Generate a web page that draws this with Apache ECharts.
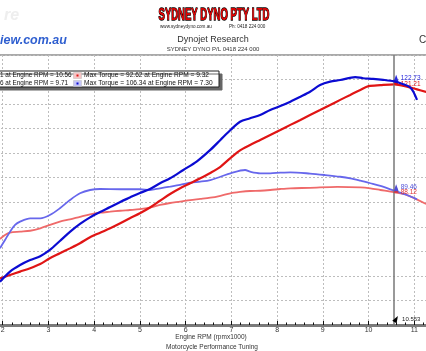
<!DOCTYPE html>
<html>
<head>
<meta charset="utf-8">
<script src="https://cdn.jsdelivr.net/npm/echarts@6/dist/echarts.min.js"></script>
<style>
html,body{margin:0;padding:0;background:#fff;}
#chart{width:426px;height:351px;}
</style>
</head>
<body>
<div id="chart"></div>
<script>
// rpm x1000 tick range shown
var rpmTicks = [2, 3, 4, 5, 6, 7, 8, 9, 10, 11];

// blue run - power (hp)
var bluePowerRpm = [1.94,2.16,2.38,2.60,2.82,3.03,3.25,3.47,3.69,3.91,4.13,4.35,4.57,4.78,5.00,5.22,5.44,5.66,5.95,6.24,6.54,6.76,6.98,7.19,7.41,7.63,7.85,8.07,8.29,8.51,8.72,8.94,9.16,9.38,9.71,9.88,10.10,10.32,10.56,10.76,10.91,10.98,11.06];
var bluePower = [21.8,26.9,30.2,32.7,34.6,37.8,42.3,46.9,50.9,54.2,56.9,59.4,62.0,64.2,66.5,68.5,71.4,73.9,78.1,82.3,88.2,93.2,98.2,102.4,104.1,105.8,108.3,110.3,112.5,115.0,117.5,120.9,122.6,123.4,124.9,124.3,124.0,123.5,122.7,121.3,119.7,117.5,113.4];

// red run - power (hp)
var redPowerRpm = [1.94,2.16,2.38,2.60,2.82,3.03,3.25,3.47,3.69,3.91,4.13,4.35,4.57,4.78,5.00,5.22,5.44,5.66,5.88,6.10,6.32,6.54,6.76,6.98,7.19,7.41,7.63,7.85,8.07,8.29,8.51,8.72,8.94,9.16,9.38,9.60,9.82,10.00,10.26,10.56,10.84,11.06,11.26];
var redPower = [23.5,25.2,26.9,28.6,30.7,33.6,36.1,38.6,41.2,44.2,46.5,48.7,51.2,53.8,56.3,59.2,62.6,66.0,68.9,71.4,73.9,76.6,79.7,84.1,88.0,90.7,93.2,95.7,98.2,100.8,103.3,105.8,108.3,110.8,113.4,115.9,118.4,120.3,120.8,121.2,120.1,118.7,117.4];

// blue run - torque (Nm)
var blueTorqueRpm = [1.94,2.05,2.16,2.27,2.38,2.60,2.82,3.03,3.25,3.47,3.69,3.91,4.13,4.57,5.00,5.22,5.44,5.66,5.88,6.10,6.32,6.54,6.76,6.98,7.30,7.41,7.63,7.85,8.07,8.29,8.72,9.05,9.38,9.60,9.82,10.04,10.26,10.56,10.84,11.06];
var blueTorque = [42.5,49.3,56.0,61.5,64.2,66.9,66.9,69.6,75.1,81.8,87.3,90.0,90.8,90.6,90.6,90.0,91.4,92.7,94.1,95.9,96.8,98.1,100.8,103.6,106.3,104.9,103.6,103.6,104.1,104.4,103.4,102.2,100.8,99.5,97.6,95.5,93.3,89.5,85.9,82.4];

// red run - torque (Nm)
var redTorqueRpm = [1.94,2.05,2.16,2.38,2.60,2.82,3.03,3.25,3.47,3.69,3.91,4.13,4.35,4.57,4.78,5.00,5.22,5.44,5.66,5.88,6.10,6.32,6.54,6.76,6.98,7.19,7.41,7.63,7.85,8.07,8.29,8.72,9.32,9.82,10.04,10.26,10.56,10.84,11.26];
var redTorque = [50.1,53.3,55.2,56.0,56.8,58.8,61.5,64.2,66.1,68.2,70.2,71.5,72.3,73.1,73.7,74.4,75.7,77.8,79.4,80.5,81.8,82.7,83.7,85.3,87.3,88.4,89.2,89.4,90.0,90.8,91.4,91.8,92.6,92.2,91.4,90.0,88.1,85.9,78.6];

// cursor readout
var cursorRpm = 10.56;
var cursorLabel = '10.553';
var cursorBluePower = 122.73, cursorRedPower = 121.21;
var cursorBlueTorque = 89.46, cursorRedTorque = 88.12;

var legendRows = [
  ['1 at Engine RPM = 10.56', 'Max Torque = 92.62 at Engine RPM = 9.32'],
  ['6 at Engine RPM = 9.71', 'Max Torque = 106.34 at Engine RPM = 7.30']
];

function pairs(xs, ys) {
  return xs.map(function (x, i) { return [x, ys[i]]; });
}

var FONT = 'Liberation Sans';
var chart = echarts.init(document.getElementById('chart'), null, {renderer: 'canvas'});

function cursorMark(val, color, dy) {
  return {
    coord: [cursorRpm, val],
    symbol: 'triangle',
    symbolSize: [5, 7],
    symbolOffset: [2, -3],
    itemStyle: {color: color},
    label: {
      show: true, position: 'right', distance: 2, offset: [0, dy],
      formatter: val.toFixed(2), color: color, fontSize: 6.5, fontFamily: FONT
    }
  };
}

var option = {
  backgroundColor: '#fff',
  animation: false,
  grid: {
    left: -43, right: -34, top: 55, bottom: 26,
    outerBoundsMode: 'none', containLabel: false,
    show: true, borderColor: '#555', borderWidth: 1
  },
  xAxis: {
    type: 'value', min: 1, max: 12, interval: 1,
    axisLine: {show: true, lineStyle: {color: '#7a7a7a', width: 3}},
    axisTick: {show: true, inside: true, length: 4, lineStyle: {color: '#111'}},
    minorTick: {show: true, splitNumber: 5, length: 2.5, lineStyle: {color: '#111'}},
    axisLabel: {
      show: true, fontSize: 7, color: '#333', margin: 2, fontFamily: FONT,
      showMinLabel: false, showMaxLabel: false
    },
    splitLine: {show: true, lineStyle: {color: '#bdbdbd', type: [2, 2], width: 1}}
  },
  yAxis: [
    {
      type: 'value', min: 0, max: 136, position: 'left',
      axisLine: {show: false}, axisTick: {show: false}, axisLabel: {show: false},
      splitLine: {show: false}
    },
    {
      type: 'value', min: -20, max: 200, interval: 20, position: 'right',
      axisLine: {show: false}, axisTick: {show: false}, axisLabel: {show: false},
      splitLine: {show: true, lineStyle: {color: '#bdbdbd', type: [2, 2], width: 1}}
    }
  ],
  series: [
    {
      name: 'Red Torque', type: 'line', yAxisIndex: 1, showSymbol: false, smooth: 0.3,
      data: pairs(redTorqueRpm, redTorque),
      lineStyle: {color: '#ef6a6a', width: 1.8}, z: 2,
      markPoint: {silent: true, data: [cursorMark(cursorRedTorque, '#e03030', 3)]}
    },
    {
      name: 'Blue Torque', type: 'line', yAxisIndex: 1, showSymbol: false, smooth: 0.3,
      data: pairs(blueTorqueRpm, blueTorque),
      lineStyle: {color: '#6767ec', width: 1.8}, z: 3,
      markPoint: {silent: true, data: [cursorMark(cursorBlueTorque, '#5050d8', 0)]}
    },
    {
      name: 'Red Power', type: 'line', yAxisIndex: 0, showSymbol: false, smooth: 0.3,
      data: pairs(redPowerRpm, redPower),
      lineStyle: {color: '#e01515', width: 2.2}, z: 4,
      markPoint: {silent: true, data: [cursorMark(cursorRedPower, '#e01515', 3)]}
    },
    {
      name: 'Blue Power', type: 'line', yAxisIndex: 0, showSymbol: false, smooth: 0.3,
      data: pairs(bluePowerRpm, bluePower),
      lineStyle: {color: '#0b0bd2', width: 2.2}, z: 5,
      markPoint: {
        silent: true,
        data: [
          cursorMark(cursorBluePower, '#2a2ae0', 0),
          {
            coord: [cursorRpm, 0], symbol: 'triangle', symbolSize: [5, 7],
            symbolOffset: [2, -6], symbolRotate: -30, itemStyle: {color: '#000'},
            label: {show: true, position: 'right', distance: 2, formatter: cursorLabel,
              color: '#222', fontSize: 6, fontFamily: FONT}
          }
        ]
      },
      markLine: {
        silent: true, symbol: 'none', label: {show: false},
        lineStyle: {color: '#777', width: 1.5, type: 'solid'},
        data: [{xAxis: cursorRpm}]
      }
    }
  ],
  graphic: [
    // bike site logo (cropped)
    {type: 'text', x: 0, y: 41, style: {text: 'iew.com.au', fill: '#2f5fd0', fontSize: 12.5,
      fontWeight: 'bold', fontStyle: 'italic', fontFamily: FONT, textVerticalAlign: 'middle',
      shadowColor: 'rgba(0,0,0,0.45)', shadowOffsetX: 1.5, shadowOffsetY: 1.5, shadowBlur: 1}},
    {type: 'text', x: 4, y: 16, style: {text: 're', fill: '#eeeeee', fontSize: 16,
      fontWeight: 'bold', fontStyle: 'italic', fontFamily: FONT, textVerticalAlign: 'middle'}},
    // dyno shop banner
    {type: 'text', x: 214, y: 15, scaleX: 0.56, style: {text: 'SYDNEY DYNO PTY LTD',
      fill: '#e00000', stroke: '#000', lineWidth: 1.4, fontSize: 17, fontWeight: 900,
      fontFamily: FONT, textAlign: 'center', textVerticalAlign: 'middle'}},
    {type: 'text', x: 160, y: 27, style: {text: 'www.sydneydyno.com.au', fill: '#222',
      fontSize: 4.6, fontFamily: FONT, textVerticalAlign: 'middle'}},
    {type: 'text', x: 229, y: 27, style: {text: 'Ph: 0418 224 000', fill: '#222',
      fontSize: 4.6, fontFamily: FONT, textVerticalAlign: 'middle'}},
    {type: 'text', x: 213, y: 40, style: {text: 'Dynojet Research', fill: '#333',
      fontSize: 9, fontFamily: FONT, textAlign: 'center', textVerticalAlign: 'middle'}},
    {type: 'text', x: 213, y: 49, style: {text: 'SYDNEY DYNO P/L 0418 224 000', fill: '#333',
      fontSize: 6, fontFamily: FONT, textAlign: 'center', textVerticalAlign: 'middle'}},
    {type: 'text', x: 419, y: 40, style: {text: 'C', fill: '#333', fontSize: 10,
      fontFamily: FONT, textVerticalAlign: 'middle'}},
    // max value legend box
    {type: 'rect', z: 50, shape: {x: -5, y: 71, width: 224, height: 16},
      style: {fill: '#fff', stroke: '#222', lineWidth: 1,
        shadowColor: '#666', shadowOffsetX: 3, shadowOffsetY: 3, shadowBlur: 0}},
    {type: 'rect', z: 51, shape: {x: 73.5, y: 72.5, width: 8, height: 6},
      style: {fill: '#f6c4c4', stroke: '#bbb', lineWidth: 0.5}},
    {type: 'rect', z: 52, shape: {x: 76.5, y: 74.5, width: 2, height: 2}, style: {fill: '#e01515'}},
    {type: 'rect', z: 51, shape: {x: 73.5, y: 80.5, width: 8, height: 6},
      style: {fill: '#c4c4f6', stroke: '#bbb', lineWidth: 0.5}},
    {type: 'rect', z: 52, shape: {x: 76.5, y: 82.5, width: 2, height: 2}, style: {fill: '#0b0bd2'}},
    {type: 'text', z: 53, x: 0, y: 75.5, style: {text: legendRows[0][0], fill: '#111',
      fontSize: 6.4, fontFamily: FONT, textVerticalAlign: 'middle'}},
    {type: 'text', z: 53, x: 84, y: 75.5, style: {text: legendRows[0][1], fill: '#111',
      fontSize: 6.6, fontFamily: FONT, textVerticalAlign: 'middle'}},
    {type: 'text', z: 53, x: 0, y: 83.5, style: {text: legendRows[1][0], fill: '#111',
      fontSize: 6.4, fontFamily: FONT, textVerticalAlign: 'middle'}},
    {type: 'text', z: 53, x: 84, y: 83.5, style: {text: legendRows[1][1], fill: '#111',
      fontSize: 6.6, fontFamily: FONT, textVerticalAlign: 'middle'}},
    // axis captions
    {type: 'text', x: 211, y: 337, style: {text: 'Engine RPM (rpmx1000)', fill: '#333',
      fontSize: 6.5, fontFamily: FONT, textAlign: 'center', textVerticalAlign: 'middle'}},
    {type: 'text', x: 212, y: 347.5, style: {text: 'Motorcycle Performance Tuning', fill: '#333',
      fontSize: 6.5, fontFamily: FONT, textAlign: 'center', textVerticalAlign: 'middle'}}
  ]
};

chart.setOption(option);

window.addEventListener('resize', function () {
  chart.resize();
});
</script>
</body>
</html>
